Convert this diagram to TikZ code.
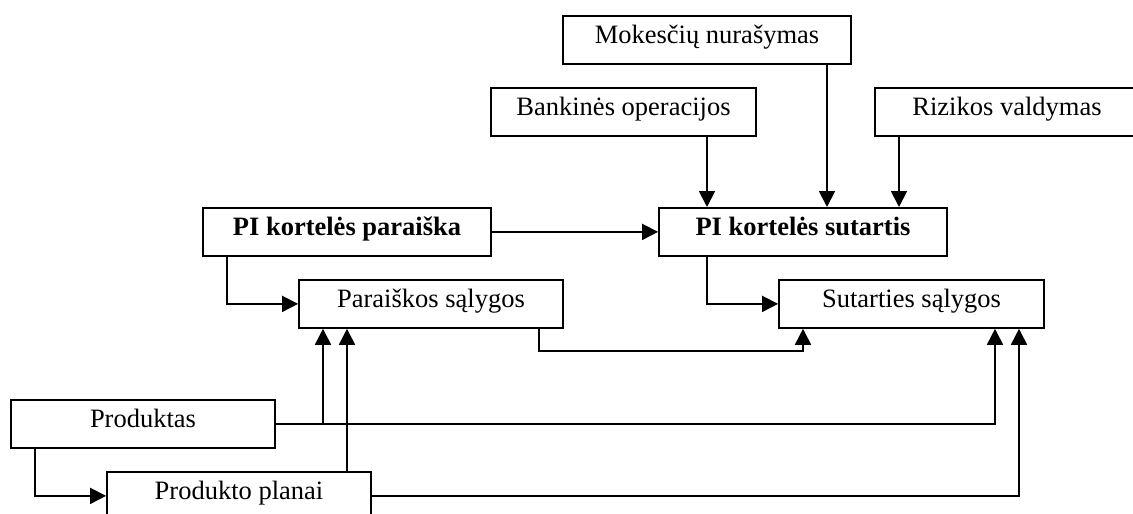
\documentclass[tikz,border=0pt]{standalone}
\usepackage{fontspec}
\setmainfont{Liberation Serif}
\usetikzlibrary{arrows.meta}
\begin{document}
\begin{tikzpicture}[x=1pt, y=-1pt,
  box/.style={draw, line width=1.8pt, rectangle, anchor=north,
    inner xsep=0pt, inner ysep=0pt, text height=28pt, text depth=20pt,
    font=\fontsize{26.5}{30}\selectfont},
  boldbox/.style={box, font=\fontsize{26.5}{30}\selectfont\bfseries},
  link/.style={line width=1.8pt},
  arr/.style={link, -{Triangle[length=16pt, width=16pt]}}]
  \useasboundingbox (0,0) rectangle (1133,514);
  \fill[white] (0,0) rectangle (1133,514);
  \clip (0,0) rectangle (1133,514);

  % boxes
  \node[box, minimum width=288pt] (mok)  at (707,15)    {Mokesčių nurašymas};
  \node[box, minimum width=265pt] (bank) at (623.5,87)  {Bankinės operacijos};
  \node[box, minimum width=264pt] (riz)  at (1007,87)   {Rizikos valdymas};
  \node[boldbox, minimum width=288pt] (sut) at (803,207) {PI kortelės sutartis};
  \node[boldbox, minimum width=288pt] (par) at (347,207) {PI kortelės paraiška};
  \node[box, minimum width=264pt] (psal) at (431,279)   {Paraiškos sąlygos};
  \node[box, minimum width=265pt] (ssal) at (911.5,279) {Sutarties sąlygos};
  \node[box, minimum width=264pt] (prod) at (143,399)   {Produktas};
  \node[box, minimum width=264pt] (plan) at (239,471)   {Produkto planai};

  % column positions of the vertical runs
  \coordinate (cBank) at (707,0);
  \coordinate (cMok)  at (827,0);
  \coordinate (cRiz)  at (899,0);
  \coordinate (cPar)  at (227,0);
  \coordinate (cProd) at (35,0);
  \coordinate (cPs1)  at (323,0);
  \coordinate (cPs2)  at (347,0);
  \coordinate (cSs0)  at (803,0);
  \coordinate (cSs1)  at (995,0);
  \coordinate (cSs2)  at (1019,0);
  \coordinate (bend)  at (539,351);

  % inputs to the contract
  \draw[arr] (bank.south -| cBank) -- (sut.north -| cBank);
  \draw[arr] (mok.south -| cMok) -- (sut.north -| cMok);
  \draw[arr] (riz.south -| cRiz) -- (sut.north -| cRiz);
  \draw[arr] (par.east) -- (sut.west);

  % conditions
  \draw[arr] (par.south -| cPar) |- (psal.west);
  \draw[arr] (sut.south -| cBank) |- (ssal.west);
  \draw[arr] (psal.south -| bend) -- (bend) -| (ssal.south -| cSs0);

  % product and plans
  \draw[arr] (prod.east) -| (psal.south -| cPs1);
  \draw[arr] (prod.east) -| (ssal.south -| cSs1);
  \draw[arr] (prod.south -| cProd) |- (plan.west);
  \draw[arr] (plan.north -| cPs2) -- (psal.south -| cPs2);
  \draw[arr] (plan.east) -| (ssal.south -| cSs2);
\end{tikzpicture}
\end{document}
